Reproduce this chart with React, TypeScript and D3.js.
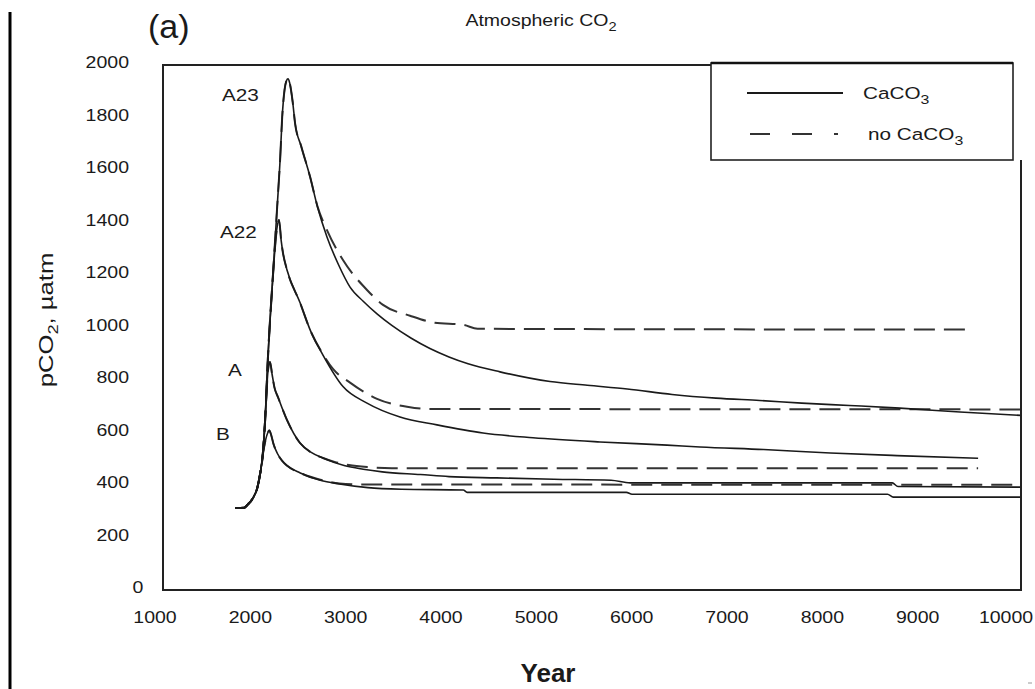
import React from 'react';
import * as d3 from 'd3';

// ---------- data (year, pCO2 µatm) ----------
const xTicks = [1000, 2000, 3000, 4000, 5000, 6000, 7000, 8000, 9000, 10000];
const yTicks = [0, 200, 400, 600, 800, 1000, 1200, 1400, 1600, 1800, 2000];

const rise: [number, number][] = [
  [1760, 312], [1850, 313], [1890, 326], [1940, 348], [1990, 390], [2020, 445], [2045, 510],
];

const bSolid: [number, number][] = [
  ...rise, [2075, 570], [2100, 600], [2115, 608], [2135, 590], [2160, 555], [2200, 520],
  [2250, 492], [2300, 474], [2440, 446], [2650, 418], [2850, 404], [3150, 390], [3500, 384],
  [4150, 381], [4190, 372], [5860, 372], [5920, 365], [8600, 365], [8660, 354], [10000, 354],
];
const bDashed: [number, number][] = [
  ...rise, [2075, 570], [2100, 600], [2115, 608], [2135, 590], [2160, 555], [2200, 520],
  [2250, 492], [2300, 474], [2440, 446], [2650, 420], [2850, 406], [3100, 402], [10000, 401],
];

const aSolid: [number, number][] = [
  ...rise, [2070, 640], [2100, 830], [2122, 869], [2145, 820], [2170, 770], [2206, 735],
  [2300, 648], [2437, 560], [2550, 525], [2678, 503], [2900, 474], [3100, 460], [3300, 450],
  [3700, 440], [4000, 432], [4500, 427], [5100, 422], [5700, 418], [5900, 408], [8650, 408],
  [8710, 394], [10000, 392],
];
const aDashed: [number, number][] = [
  ...rise, [2070, 640], [2100, 830], [2122, 869], [2145, 820], [2170, 770], [2206, 735],
  [2300, 648], [2437, 560], [2550, 525], [2678, 503], [2800, 488], [2950, 476], [3150, 468],
  [3400, 464], [9550, 464],
];

const a22Solid: [number, number][] = [
  ...rise, [2070, 640], [2100, 880], [2150, 1180], [2196, 1380], [2217, 1410], [2240, 1330],
  [2259, 1283], [2300, 1220], [2437, 1095], [2550, 985], [2678, 895], [2888, 775], [3140, 712],
  [3486, 659], [3874, 629], [4357, 598], [4881, 580], [5584, 564], [6287, 552], [6633, 545],
  [7300, 535], [8000, 522], [8700, 512], [9550, 502],
];
const a22Dashed: [number, number][] = [
  ...rise, [2070, 640], [2100, 880], [2150, 1180], [2196, 1380], [2217, 1410], [2240, 1330],
  [2259, 1283], [2300, 1220], [2437, 1095], [2550, 985], [2678, 898], [2783, 842], [2962, 790],
  [3245, 728], [3560, 698], [3770, 690], [10000, 688],
];

const a23Solid: [number, number][] = [
  ...rise, [2070, 640], [2100, 880], [2150, 1180], [2196, 1450], [2230, 1650], [2250, 1800],
  [2275, 1905], [2295, 1940], [2311, 1947], [2330, 1930], [2360, 1860], [2385, 1779],
  [2450, 1690], [2542, 1575], [2620, 1460], [2720, 1345], [2840, 1240], [2962, 1154],
  [3100, 1100], [3245, 1052], [3400, 1008], [3600, 960], [3800, 920], [4000, 888], [4200, 862],
  [4535, 831], [5060, 794], [5450, 780], [5870, 766], [6340, 745], [6800, 731], [7260, 722],
  [7700, 712], [8200, 703], [8730, 693], [9360, 678], [10000, 665],
];
const a23Dashed: [number, number][] = [
  ...rise, [2070, 640], [2100, 880], [2150, 1180], [2196, 1450], [2230, 1650], [2250, 1800],
  [2275, 1905], [2295, 1940], [2311, 1947], [2330, 1930], [2360, 1860], [2385, 1779],
  [2450, 1690], [2542, 1575], [2620, 1462], [2720, 1371], [2888, 1257], [3140, 1143],
  [3308, 1086], [3591, 1045], [3850, 1018], [4150, 1010], [4300, 995], [9500, 992],
];

const curveLabels = [
  { text: 'A23', x: 222, y: 101 },
  { text: 'A22', x: 220, y: 238 },
  { text: 'A', x: 228, y: 376 },
  { text: 'B', x: 216, y: 440 },
];

const solidSeries = [a23Solid, a22Solid, aSolid, bSolid];
const dashedSeries = [a23Dashed, a22Dashed, aDashed, bDashed];

// ---------- layout ----------
const W = 1035, H = 689;
const L = 163, R = 1021, T = 65, B = 590;
const FONT = '"Liberation Sans", Arial, Helvetica, sans-serif';
const SX = 1.22;

const legend = { x0: 711, x1: 1013, y0: 63, y1: 160, row1: 93, row2: 134 };

function Txt(props: { x: number; y: number; size: number; anchor?: string; sx?: number; weight?: string; children: any }) {
  const { x, y, size, anchor = 'start', sx = SX, weight = 'normal', children } = props;
  return (
    <text
      transform={`translate(${x},${y}) scale(${sx},1)`}
      fontSize={size}
      fontFamily={FONT}
      fontWeight={weight}
      textAnchor={anchor}
      fill="#1a1a1a"
    >
      {children}
    </text>
  );
}

export default function App() {
  const x = d3.scaleLinear().domain([1000, 10000]).range([L, R]);
  const y = d3.scaleLinear().domain([0, 2000]).range([B, T]);
  const line = d3
    .line<[number, number]>()
    .x((d) => x(d[0]))
    .y((d) => y(d[1]))
    .curve(d3.curveMonotoneX);

  return (
    <svg
      width={W}
      height={H}
      viewBox={`0 0 ${W} ${H}`}
      style={{ position: 'absolute', left: 0, top: 0, background: '#fff' }}
    >
      <rect x={0} y={0} width={W} height={H} fill="#fff" />
      {/* left page rule */}
      <line x1={10} y1={12} x2={10} y2={H} stroke="#000" strokeWidth={3} />

      {/* title and panel tag */}
      <Txt x={148} y={38} size={34} sx={1}>(a)</Txt>
      <Txt x={541} y={26} size={16} anchor="middle">
        Atmospheric CO<tspan fontSize={12} dy={5}>2</tspan>
      </Txt>

      {/* curves */}
      {dashedSeries.map((s, i) => (
        <path key={'d' + i} d={line(s) || ''} fill="none" stroke="#333" strokeWidth={2} strokeDasharray="21,9" />
      ))}
      {solidSeries.map((s, i) => (
        <path key={'s' + i} d={line(s) || ''} fill="none" stroke="#1a1a1a" strokeWidth={1.6} />
      ))}

      {/* frame */}
      <path
        d={`M${legend.x0},${T} L${L},${T} L${L},${B} L${R},${B} L${R},${legend.y1}`}
        fill="none"
        stroke="#222"
        strokeWidth={2}
      />

      {/* y tick labels */}
      {yTicks.map((v) =>
        v === 0 ? (
          <Txt key={v} x={138} y={y(v) + 3} size={16} anchor="middle">{String(v)}</Txt>
        ) : (
          <Txt key={v} x={129} y={y(v) + 3} size={16} anchor="end">{String(v)}</Txt>
        )
      )}
      {/* x tick labels */}
      {xTicks.map((v) => (
        <Txt key={v} x={Math.min(x(v) - 8, 1006)} y={623} size={16} anchor="middle">{String(v)}</Txt>
      ))}

      {/* axis titles */}
      <g transform="translate(53,320) rotate(-90)">
        <Txt x={0} y={0} size={21} anchor="middle">
          pCO<tspan fontSize={15} dy={5}>2</tspan><tspan dy={-5}>, µatm</tspan>
        </Txt>
      </g>
      <Txt x={548} y={682} size={26} sx={1} weight="bold" anchor="middle">Year</Txt>

      {/* curve labels */}
      {curveLabels.map((c) => (
        <Txt key={c.text} x={c.x} y={c.y} size={17}>{c.text}</Txt>
      ))}

      {/* legend */}
      <rect
        x={legend.x0}
        y={legend.y0}
        width={legend.x1 - legend.x0}
        height={legend.y1 - legend.y0}
        fill="#fff"
        stroke="#222"
        strokeWidth={1.6}
      />
      <line x1={legend.x0} y1={legend.y0} x2={legend.x1} y2={legend.y0} stroke="#111" strokeWidth={2.6} />
      <line x1={747} y1={legend.row1} x2={843} y2={legend.row1} stroke="#1a1a1a" strokeWidth={1.8} />
      <line x1={750} y1={legend.row2} x2={838} y2={legend.row2} stroke="#333" strokeWidth={1.8} strokeDasharray="20,22" />
      <Txt x={863} y={legend.row1 + 6} size={17}>
        CaCO<tspan fontSize={13} dy={5}>3</tspan>
      </Txt>
      <Txt x={868} y={legend.row2 + 6} size={17}>
        no CaCO<tspan fontSize={13} dy={5}>3</tspan>
      </Txt>

      {/* stray mark at lower right */}
      <line x1={1028} y1={683} x2={1032} y2={683} stroke="#999" strokeWidth={1} />
    </svg>
  );
}
